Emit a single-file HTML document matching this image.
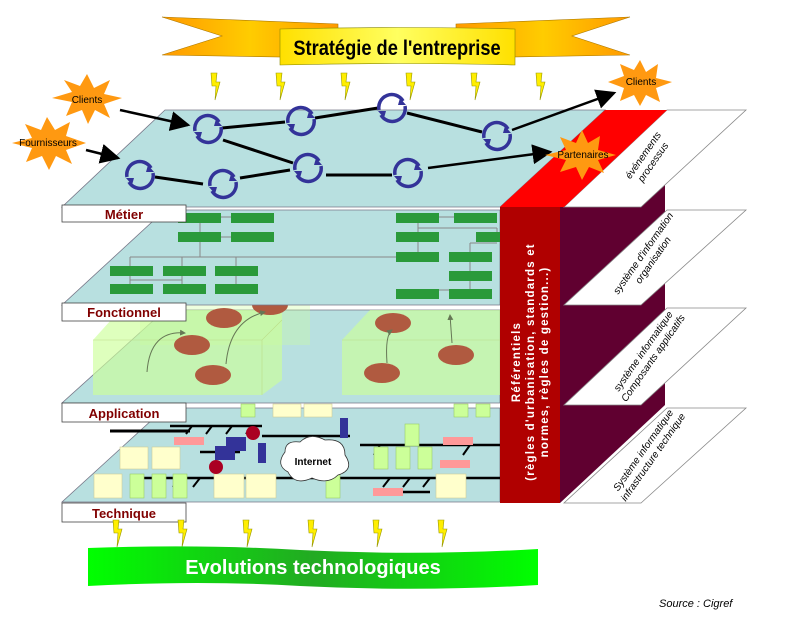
<!DOCTYPE html>
<html><head><meta charset="utf-8"><style>
html,body{margin:0;padding:0;background:#fff}
svg{display:block}
text{font-family:"Liberation Sans",sans-serif}
</style></head><body>
<svg width="800" height="619" viewBox="0 0 800 619" xmlns="http://www.w3.org/2000/svg">
<defs>
<linearGradient id="org" x1="0" y1="0" x2="1" y2="0"><stop offset="0" stop-color="#ff9900"/><stop offset="0.5" stop-color="#ffcc00"/><stop offset="1" stop-color="#ff9900"/></linearGradient>
<linearGradient id="yel" x1="0" y1="0" x2="1" y2="0"><stop offset="0" stop-color="#ffe000"/><stop offset="0.5" stop-color="#ffff60"/><stop offset="1" stop-color="#ffe000"/></linearGradient>
<linearGradient id="grn" x1="0" y1="0" x2="1" y2="0"><stop offset="0" stop-color="#00ff00"/><stop offset="0.5" stop-color="#22aa22"/><stop offset="1" stop-color="#00ff00"/></linearGradient>
<marker id="ar" markerWidth="8" markerHeight="8" refX="7" refY="4" orient="auto"><path d="M0,0 L8,4 L0,8 z" fill="#000"/></marker>
<marker id="ag" markerWidth="6" markerHeight="6" refX="5" refY="3" orient="auto"><path d="M0,0 L6,3 L0,6 z" fill="#667755"/></marker>
<g id="bolt"><path d="M0,0 L6,0 L5,9 L9,9 L4,27 L5,13 L1,13 z" fill="#ffee00" stroke="#999900" stroke-width="0.6"/></g>
<g id="cyc"><path d="M-13,2 A13,13 0 0 1 11,-7" fill="none" stroke="#333399" stroke-width="3.5"/><path d="M13,-2 A13,13 0 0 1 -11,7" fill="none" stroke="#333399" stroke-width="3.5"/><path d="M8,-10 L14,-3 L6,-3 z" fill="#333399"/><path d="M-8,10 L-14,3 L-6,3 z" fill="#333399"/></g>
<g id="ell"><ellipse cx="0" cy="0" rx="18" ry="10" fill="#b05a40"/></g>
</defs>

<path d="M162,17 L338,24 L338,58 L162,55 L222,36 z" fill="url(#org)" stroke="#aa7700" stroke-width="0.6"/>
<path d="M630,17 L456,24 L456,58 L630,55 L572,36 z" fill="url(#org)" stroke="#aa7700" stroke-width="0.6"/>
<path d="M280,29 Q400,26 515,29 L515,65 Q400,62 280,65 z" fill="url(#yel)" stroke="#888800" stroke-width="0.6"/>
<text x="397" y="55" font-size="21" font-weight="bold" text-anchor="middle" fill="#000" transform="translate(397,0) scale(0.87,1) translate(-397,0)">Stratégie de l'entreprise</text>
<use href="#bolt" x="211" y="73"/><use href="#bolt" x="276" y="73"/><use href="#bolt" x="341" y="73"/><use href="#bolt" x="406" y="73"/><use href="#bolt" x="471" y="73"/><use href="#bolt" x="536" y="73"/>

<path d="M560,207 L665,110 L665,405 L560,503 z" fill="#600030"/>
<path d="M667,110 L746,110 L641,207 L564,207 z" fill="#fff" stroke="#888" stroke-width="0.8"/>
<path d="M667,210 L746,210 L641,305 L564,305 z" fill="#fff" stroke="#888" stroke-width="0.8"/>
<path d="M667,308 L746,308 L641,405 L564,405 z" fill="#fff" stroke="#888" stroke-width="0.8"/>
<path d="M667,408 L746,408 L641,503 L564,503 z" fill="#fff" stroke="#888" stroke-width="0.8"/>
<g font-size="10" font-style="italic" text-anchor="middle" fill="#000">
<text transform="translate(650,160) rotate(-55)"><tspan x="0" y="-5">événements</tspan><tspan x="0" y="7">processus</tspan></text>
<text transform="translate(650,258) rotate(-55)"><tspan x="0" y="-5">système d'information</tspan><tspan x="0" y="7">organisation</tspan></text>
<text transform="translate(650,356) rotate(-55)"><tspan x="0" y="-5">système informatique</tspan><tspan x="0" y="7">Composants applicatifs</tspan></text>
<text transform="translate(650,455) rotate(-55)"><tspan x="0" y="-5">Système informatique</tspan><tspan x="0" y="7">infrastructure technique</tspan></text>
</g>

<path d="M165,408 L500,408 L500,502 L62,502 z" fill="#b8e0e0" stroke="#778" stroke-width="0.8"/>
<g stroke="#000" stroke-width="2.5" fill="none">
<path d="M170,426 L262,426"/>
<path d="M262,436 L350,436"/><path d="M200,452 L240,452"/>
<path d="M130,478 L500,478" /><path d="M360,445 L500,445"/>
<path d="M380,492 L430,492"/>
</g>
<g stroke="#000" stroke-width="2">
<path d="M192,426 L186,434 M212,426 L206,434 M232,426 L226,434 M252,426 L246,434"/>
<path d="M140,478 L133,487 M160,478 L153,487 M180,478 L173,487 M200,478 L193,487"/>
<path d="M390,478 L383,487 M410,478 L403,487 M430,478 L423,487 M470,445 L463,455 M380,445 L374,455"/>
</g>
<g stroke="#000" stroke-width="3"><path d="M110,431 L190,431"/></g>
<rect x="174" y="437" width="30" height="8" fill="#ff9999"/><rect x="443" y="437" width="30" height="8" fill="#ff9999"/><rect x="440" y="460" width="30" height="8" fill="#ff9999"/><rect x="373" y="488" width="30" height="8" fill="#ff9999"/>
<g fill="#ffffcc" stroke="#cccc99" stroke-width="0.6">
<rect x="120" y="447" width="28" height="22"/><rect x="152" y="447" width="28" height="22"/>
<rect x="94" y="474" width="28" height="24"/><rect x="214" y="474" width="30" height="24"/><rect x="246" y="474" width="30" height="24"/><rect x="436" y="474" width="30" height="24"/>
<rect x="273" y="404" width="28" height="13"/><rect x="304" y="404" width="28" height="13"/>
</g>
<g fill="#ccff99" stroke="#99cc66" stroke-width="0.6">
<rect x="130" y="474" width="14" height="24"/><rect x="152" y="474" width="14" height="24"/><rect x="173" y="474" width="14" height="24"/>
<rect x="326" y="474" width="14" height="24"/><rect x="374" y="447" width="14" height="22"/><rect x="396" y="447" width="14" height="22"/><rect x="418" y="447" width="14" height="22"/><rect x="405" y="424" width="14" height="22"/>
<rect x="241" y="404" width="14" height="13"/><rect x="454" y="404" width="14" height="13"/><rect x="476" y="404" width="14" height="13"/>
</g>
<rect x="226" y="437" width="20" height="14" fill="#333399"/><rect x="215" y="446" width="20" height="14" fill="#333399"/>
<rect x="258" y="443" width="8" height="20" fill="#333399"/><rect x="340" y="418" width="8" height="20" fill="#333399"/>
<circle cx="253" cy="433" r="7" fill="#aa0022"/><circle cx="216" cy="467" r="7" fill="#aa0022"/>
<path d="M285,452 Q285,440 300,442 Q310,432 325,440 Q345,438 345,455 Q355,470 338,475 Q328,485 312,478 Q295,486 288,472 Q275,465 285,452 z" fill="#fff" stroke="#333" stroke-width="0.8"/>
<text x="313" y="465" font-size="10" font-weight="bold" text-anchor="middle">Internet</text>

<path d="M165,310 L500,310 L500,403 L62,403 z" fill="#b8e0e0" stroke="#778" stroke-width="0.8"/>
<g fill="#ccff99" fill-opacity="0.65">
<path d="M93,340 L120,310 L282,310 L282,380 L262,395 L93,395 z"/>
<path d="M342,340 L370,310 L500,310 L500,395 L342,395 z"/>
<path d="M140,300 L310,300 L310,345 L140,345 z" opacity="0.5"/>
</g>
<g stroke="#bbdd88" stroke-width="0.6" fill="none"><path d="M93,340 L262,340 L282,320 M262,340 L262,395"/><path d="M342,340 L500,340"/></g>
<use href="#ell" x="224" y="318"/><use href="#ell" x="192" y="345"/><use href="#ell" x="213" y="375"/><use href="#ell" x="382" y="373"/><use href="#ell" x="456" y="355"/><use href="#ell" x="393" y="323"/><use href="#ell" x="270" y="305"/>
<g stroke="#667755" stroke-width="1" fill="none" marker-end="url(#ag)"><path d="M147,372 Q150,330 185,333"/><path d="M226,364 Q230,320 265,312"/><path d="M387,363 Q385,335 392,330"/><path d="M452,343 L450,315"/></g>

<path d="M165,210 L500,210 L500,305 L62,305 z" fill="#b8e0e0" stroke="#778" stroke-width="0.8"/>
<g stroke="#888" stroke-width="1" fill="none">
<path d="M200,217 L200,257 M130,257 L400,257 M130,257 L130,287 M182,257 L182,287 M236,257 L236,287 M200,237 L252,237 M200,217 L252,217 M130,280 L182,280"/>
<path d="M418,217 L470,217 M418,217 L418,256 M418,228 L497,228 M497,228 L497,240 M470,243 L497,243 M470,243 L470,295 M418,290 L470,290"/>
</g>
<g fill="#2a9a3a">
<rect x="178" y="213" width="43" height="10"/><rect x="231" y="213" width="43" height="10"/><rect x="178" y="232" width="43" height="10"/><rect x="231" y="232" width="43" height="10"/>
<rect x="110" y="266" width="43" height="10"/><rect x="163" y="266" width="43" height="10"/><rect x="215" y="266" width="43" height="10"/><rect x="110" y="284" width="43" height="10"/><rect x="163" y="284" width="43" height="10"/><rect x="215" y="284" width="43" height="10"/>
<rect x="396" y="213" width="43" height="10"/><rect x="454" y="213" width="43" height="10"/><rect x="396" y="232" width="43" height="10"/><rect x="476" y="232" width="24" height="10"/><rect x="396" y="252" width="43" height="10"/><rect x="449" y="252" width="43" height="10"/><rect x="449" y="271" width="43" height="10"/><rect x="396" y="289" width="43" height="10"/><rect x="449" y="289" width="43" height="10"/>
</g>

<path d="M165,110 L605,110 L500,207 L62,207 z" fill="#b8e0e0" stroke="#778" stroke-width="0.8"/>
<path d="M605,110 L667,110 L564,207 L500,207 z" fill="#ff0000"/>
<rect x="500" y="207" width="60" height="296" fill="#b00000"/>
<text transform="translate(520,362) rotate(-90)" font-size="11.5" font-weight="bold" fill="#fff" text-anchor="middle" letter-spacing="1.2"><tspan x="0" y="0">Référentiels</tspan><tspan x="0" y="14">(règles d'urbanisation, standards et</tspan><tspan x="0" y="28">normes, règles de gestion...)</tspan></text>

<g stroke="#000" stroke-width="3" fill="none">
<path d="M222,128 L285,122 M315,118 L378,108 M407,113 L482,132"/>
<path d="M223,140 L293,163 M155,177 L203,184 M240,178 L290,170 M326,175 L392,175"/>
</g>
<g stroke="#000" stroke-width="2.5" fill="none" marker-end="url(#ar)">
<path d="M120,110 L188,125"/><path d="M86,150 L118,158"/><path d="M512,130 L614,93"/><path d="M428,168 L550,152"/>
</g>
<use href="#cyc" x="208" y="129"/><use href="#cyc" x="301" y="121"/><use href="#cyc" x="392" y="108"/><use href="#cyc" x="497" y="136"/>
<use href="#cyc" x="140" y="175"/><use href="#cyc" x="223" y="184"/><use href="#cyc" x="308" y="168"/><use href="#cyc" x="408" y="173"/>

<g fill="#ff9911">
<path d="M87,74 L94,88 L110,80 L104,94 L122,98 L104,104 L110,118 L95,110 L88,124 L82,110 L66,116 L72,102 L52,98 L72,92 L64,80 L80,86 z"/>
<path d="M47,117 L55,130 L70,122 L66,136 L86,143 L66,150 L72,164 L56,156 L49,170 L42,156 L26,162 L32,148 L12,143 L32,138 L25,124 L41,130 z"/>
<path d="M640,60 L646,72 L658,64 L656,78 L672,82 L656,88 L660,102 L646,95 L640,106 L634,95 L620,101 L624,88 L608,82 L624,76 L620,64 L634,70 z"/>
<path d="M582,130 L588,143 L600,136 L598,150 L616,155 L598,160 L604,173 L589,167 L582,180 L576,167 L560,172 L566,160 L545,155 L566,150 L560,137 L576,143 z"/>
</g>
<g font-size="10" text-anchor="middle" fill="#000">
<text x="87" y="103">Clients</text><text x="48" y="146">Fournisseurs</text><text x="641" y="85">Clients</text><text x="583" y="158">Partenaires</text>
</g>

<g font-size="13" font-weight="bold" fill="#800000" text-anchor="middle">
<rect x="62" y="205" width="124" height="17" fill="#fff" stroke="#444" stroke-width="0.8"/><text x="124" y="219">Métier</text>
<rect x="62" y="303" width="124" height="18" fill="#fff" stroke="#444" stroke-width="0.8"/><text x="124" y="317">Fonctionnel</text>
<rect x="62" y="403" width="124" height="19" fill="#fff" stroke="#444" stroke-width="0.8"/><text x="124" y="418">Application</text>
<rect x="62" y="503" width="124" height="19" fill="#fff" stroke="#444" stroke-width="0.8"/><text x="124" y="518">Technique</text>
</g>

<use href="#bolt" x="113" y="520"/><use href="#bolt" x="178" y="520"/><use href="#bolt" x="243" y="520"/><use href="#bolt" x="308" y="520"/><use href="#bolt" x="373" y="520"/><use href="#bolt" x="438" y="520"/>
<path d="M88,548 Q200,544 300,550 Q420,556 538,549 L538,585 Q420,592 300,586 Q200,580 88,586 z" fill="url(#grn)"/>
<text x="313" y="574" font-size="20" font-weight="bold" fill="#fff" text-anchor="middle">Evolutions technologiques</text>
<text x="659" y="607" font-size="11" font-style="italic" fill="#000">Source : Cigref</text>
</svg>
</body></html>
